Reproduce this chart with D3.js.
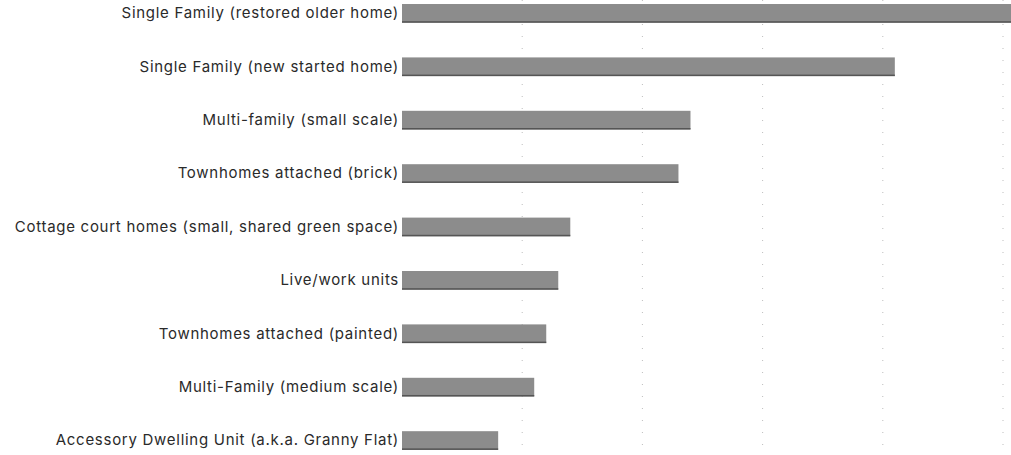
<!DOCTYPE html>
<html>
<head>
<meta charset="utf-8">
<script src="https://cdn.jsdelivr.net/npm/d3@7"></script>
<style>
  html, body { margin: 0; padding: 0; background: #fff; }
  svg { display: block; }
  text { font-family: Inter, "Noto Sans", sans-serif; }
</style>
</head>
<body>
<svg id="chart" width="1011" height="455"></svg>
<script>
const categories = [
  "Single Family (restored older home)",
  "Single Family (new started home)",
  "Multi-family (small scale)",
  "Townhomes attached (brick)",
  "Cottage court homes (small, shared green space)",
  "Live/work units",
  "Townhomes attached (painted)",
  "Multi-Family (medium scale)",
  "Accessory Dwelling Unit (a.k.a. Granny Flat)"
];
const values = [51, 41, 24, 23, 14, 13, 12, 11, 8];
const gridTicks = [10, 20, 30, 40, 50];

const svg = d3.select("#chart");

const x = d3.scaleLinear().domain([0, 50]).range([402, 1003]);
const y = d3.scaleBand().domain(categories).range([-12, 465.9]).paddingInner(0.65).paddingOuter(0.3);

// gridlines
svg.append("g").selectAll("line").data(gridTicks).join("line")
  .attr("x1", d => x(d)).attr("x2", d => x(d))
  .attr("y1", 0).attr("y2", 448)
  .attr("stroke", "#bdbdbd").attr("stroke-width", 1)
  .attr("stroke-dasharray", "1,11");

// bars
const bars = svg.append("g");
bars.selectAll("rect.bar").data(values).join("rect")
  .attr("class", "bar")
  .attr("x", x(0))
  .attr("y", (d, i) => y(categories[i]))
  .attr("width", d => x(d) - x(0))
  .attr("height", y.bandwidth())
  .attr("fill", "#8c8c8c");
bars.selectAll("rect.edge").data(values).join("rect")
  .attr("class", "edge")
  .attr("x", x(0))
  .attr("y", (d, i) => y(categories[i]) + y.bandwidth() - 1.5)
  .attr("width", d => x(d) - x(0))
  .attr("height", 1.5)
  .attr("fill", "#555");

// labels
const yAxis = d3.axisLeft(y).tickSize(0).tickPadding(3);
const ag = svg.append("g").attr("transform", `translate(${x(0)},0)`).call(yAxis);
ag.select(".domain").remove();
ag.selectAll("text").attr("font-size", 15).attr("fill", "#2a2a2a")
  .style("font-family", 'Inter, "Noto Sans", sans-serif')
  .style("letter-spacing", "0.72px");
</script>
</body>
</html>
